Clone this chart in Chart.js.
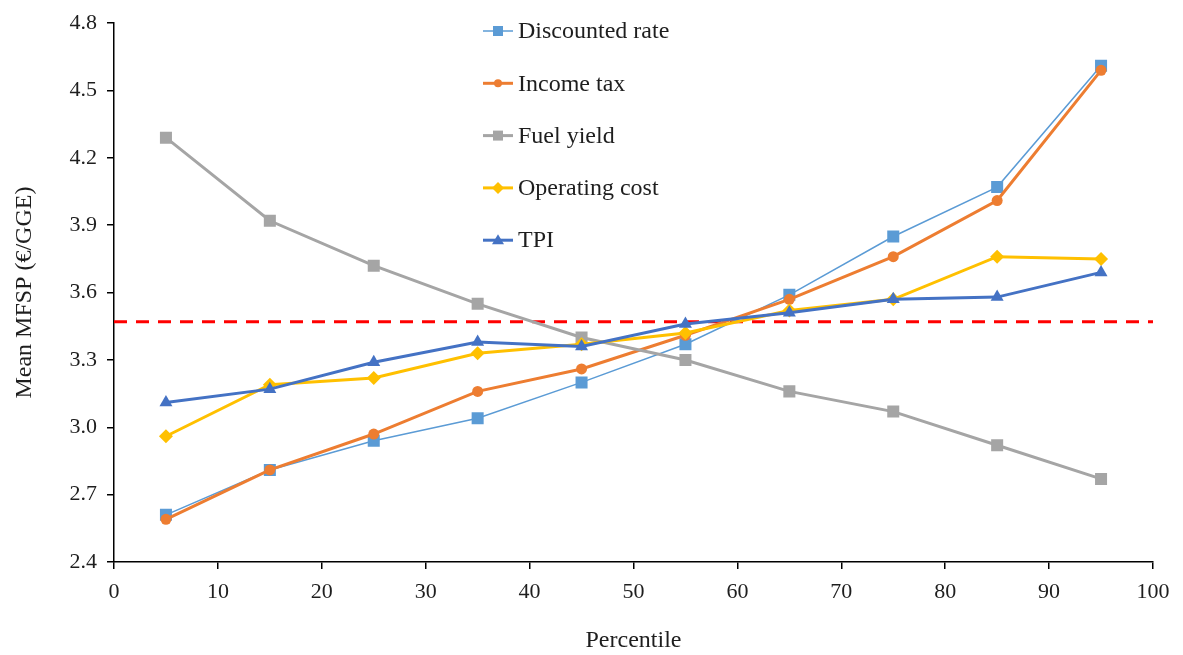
<!DOCTYPE html>
<html>
<head>
<meta charset="utf-8">
<script src="https://cdn.jsdelivr.net/npm/chart.js@4/dist/chart.umd.min.js"></script>
<style>
   body { margin: 0; background: #fff; }
</style>
</head>
<body>
<canvas id="grafico" width="1183" height="655"></canvas>
<script>
// Dados
const percentiles = [5, 15, 25, 35, 45, 55, 65, 75, 85, 95];
const discountedRate = [2.61, 2.81, 2.94, 3.04, 3.20, 3.37, 3.59, 3.85, 4.07, 4.61];
const incomeTax = [2.59, 2.81, 2.97, 3.16, 3.26, 3.41, 3.57, 3.76, 4.01, 4.59];
const fuelYield = [4.29, 3.92, 3.72, 3.55, 3.40, 3.30, 3.16, 3.07, 2.92, 2.77];
const operatingCost = [2.96, 3.19, 3.22, 3.33, 3.37, 3.42, 3.52, 3.57, 3.76, 3.75];
const tpi = [3.11, 3.17, 3.29, 3.38, 3.36, 3.46, 3.51, 3.57, 3.58, 3.69];
const baseLine = 3.47;
const xRange = [0, 100];

const font = "'Liberation Serif', 'Times New Roman', serif";
const textColor = "#1e1e1e";

function points(values) {
   return values.map((v, i) => ({ x: percentiles[i], y: v }));
}

const series = [
   { label: 'Discounted rate', data: discountedRate, color: '#5B9BD5', width: 1.5, style: 'rect', radius: 8.5, order: 5 },
   { label: 'Income tax', data: incomeTax, color: '#ED7D31', width: 3, style: 'circle', radius: 5.5, order: 4 },
   { label: 'Fuel yield', data: fuelYield, color: '#A5A5A5', width: 3, style: 'rect', radius: 8.5, order: 3 },
   { label: 'Operating cost', data: operatingCost, color: '#FFC000', width: 3, style: 'rectRot', radius: 7, order: 2 },
   { label: 'TPI', data: tpi, color: '#4472C4', width: 3, style: 'triangle', radius: 7.5, order: 1 }
];

const datasets = series.map(s => ({
   type: 'line',
   label: s.label,
   data: points(s.data),
   borderColor: s.color,
   backgroundColor: s.color,
   borderWidth: s.width,
   pointStyle: s.style,
   pointRadius: s.radius,
   pointBorderWidth: 0,
   tension: 0,
   order: s.order
}));

// linha tracejada vermelha (valor base)
datasets.push({
   type: 'line',
   label: 'base',
   data: xRange.map(x => ({ x: x, y: baseLine })),
   borderColor: '#FF0000',
   borderWidth: 3,
   borderDash: [13, 9],
   pointRadius: 0,
   order: 10
});

// Legenda desenhada dentro da area do grafico
const legendaInterna = {
   id: 'legendaInterna',
   afterDraw(chart) {
      const ctx = chart.ctx;
      const x0 = 483, y0 = 31, step = 52.3;
      ctx.save();
      series.forEach((s, i) => {
         const y = y0 + i * step;
         ctx.strokeStyle = s.color;
         ctx.fillStyle = s.color;
         ctx.lineWidth = s.width;
         ctx.beginPath();
         ctx.moveTo(x0, y);
         ctx.lineTo(x0 + 30, y);
         ctx.stroke();
         const cx = x0 + 15;
         ctx.beginPath();
         if (s.style === 'rect') {
            ctx.rect(cx - 5, y - 5, 10, 10);
         } else if (s.style === 'circle') {
            ctx.arc(cx, y, 4, 0, Math.PI * 2);
         } else if (s.style === 'rectRot') {
            ctx.moveTo(cx, y - 6); ctx.lineTo(cx + 6, y); ctx.lineTo(cx, y + 6); ctx.lineTo(cx - 6, y);
         } else {
            ctx.moveTo(cx, y - 6); ctx.lineTo(cx + 6, y + 4); ctx.lineTo(cx - 6, y + 4);
         }
         ctx.closePath();
         ctx.fill();
         ctx.fillStyle = textColor;
         ctx.font = "24px " + font;
         ctx.textBaseline = 'middle';
         ctx.textAlign = 'left';
         ctx.fillText(s.label, x0 + 35, y + 1);
      });
      ctx.restore();
   }
};

const grafico = document.getElementById('grafico').getContext('2d');
const chart = new Chart(grafico, {
   data: { datasets },
   plugins: [legendaInterna],
   options: {
      responsive: false,
      animation: false,
      layout: { padding: { top: 22, right: 30, bottom: 0, left: 0 } },
      plugins: {
         legend: { display: false },
         tooltip: { enabled: false }
      },
      scales: {
         x: {
            type: 'linear',
            min: xRange[0],
            max: xRange[1],
            afterFit: (scale) => { scale.height = 93; },
            border: { color: '#000', width: 1.5 },
            grid: { drawOnChartArea: false, color: '#000', tickLength: 7, lineWidth: 1.5 },
            ticks: { stepSize: 10, color: textColor, padding: 10, font: { family: font, size: 22 } },
            title: {
               display: true,
               text: 'Percentile',
               color: textColor,
               font: { family: font, size: 24 },
               padding: { top: 0, bottom: 0 }
            }
         },
         y: {
            min: 2.4,
            max: 4.8,
            afterFit: (scale) => { scale.width = 114; },
            border: { color: '#000', width: 1.5 },
            grid: { drawOnChartArea: false, color: '#000', tickLength: 7, lineWidth: 1.5 },
            ticks: {
               stepSize: 0.3,
               color: textColor,
               padding: 10,
               font: { family: font, size: 22 },
               callback: (v) => Number(v).toFixed(1)
            },
            title: {
               display: true,
               text: 'Mean MFSP (€/GGE)',
               color: textColor,
               font: { family: font, size: 24 },
               padding: { top: 10, bottom: 0 }
            }
         }
      }
   }
});
</script>
</body>
</html>
